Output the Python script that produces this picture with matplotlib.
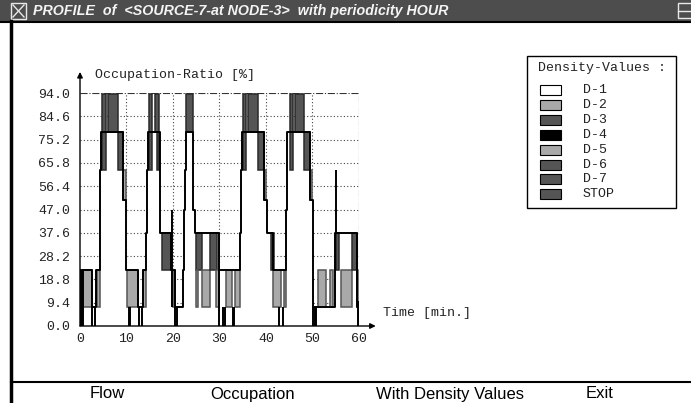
import numpy as np
import matplotlib.pyplot as plt
from matplotlib.patches import Rectangle

# occupation profile (step, post): time [min.] / occupation [%]
prof_t = [0.0, 2.5, 3.4, 4.2, 4.4, 4.6, 9.3, 9.8, 12.5, 13.5, 14.3, 14.5, 14.6,
          17.2, 19.6, 20.4, 22.2, 22.4, 22.6, 22.7, 24.3, 24.8, 29.9, 34.4, 34.6,
          34.8, 39.5, 40.2, 41.6, 44.4, 44.6, 49.5, 50.1, 54.9, 59.6,
          59.9, 60.0]
prof_v = [22.6, 7.5, 22.6, 37.6, 63.0, 78.4, 51.0, 22.6, 7.5, 22.6, 37.6, 63.0, 78.4,
          37.6, 22.6, 7.5, 22.6, 47.0, 63.0, 78.4, 47.0, 37.6, 22.6, 37.6, 63.0,
          78.4, 51.0, 37.6, 22.6, 47.0, 78.4, 51.0, 7.5, 37.6, 7.5,
          0.0, 0.0]

# density blocks: start, end, lower, upper, density class
blk_t0 = [4.8, 6.1, 8.1, 9.2, 14.8, 16.1, 16.5, 22.7, 35.0, 36.2, 38.2, 39.5,
          45.2, 46.2, 48.2, 49.5,
          0.7, 3.6, 10.2, 13.5, 17.7, 19.9, 24.9, 24.9, 26.2, 28.0, 29.2, 31.5,
          33.4, 41.0, 41.6, 43.8, 51.1, 53.8, 55.0, 56.1, 58.4, 59.5]
blk_t1 = [5.5, 8.1, 9.2, 9.8, 15.4, 17.0, 17.0, 24.2, 35.6, 38.2, 39.5, 40.1,
          45.7, 48.2, 49.5, 50.0,
          2.5, 4.2, 12.5, 14.3, 19.6, 20.4, 26.3, 25.4, 28.0, 29.5, 29.9, 32.6,
          34.5, 41.8, 43.3, 44.4, 52.9, 54.5, 55.6, 58.4, 59.5, 59.8]
blk_lo = [63.0, 78.4, 63.0, 51.0, 63.0, 78.4, 63.0, 78.4, 63.0, 78.4, 63.0, 51.0,
          63.0, 78.4, 63.0, 51.0,
          7.5, 7.5, 7.5, 7.5, 22.6, 7.5, 22.6, 7.5, 7.5, 22.6, 7.5, 7.5,
          7.5, 22.6, 7.5, 7.5, 7.5, 7.5, 22.6, 7.5, 22.6, 7.5]
blk_hi = [93.5, 93.5, 78.4, 63.0, 93.5, 93.5, 78.4, 93.5, 93.5, 93.5, 78.4, 63.0,
          93.5, 93.5, 78.4, 63.0,
          22.6, 22.6, 22.6, 22.6, 37.6, 22.6, 37.6, 22.6, 22.6, 37.6, 22.6, 22.6,
          22.6, 37.6, 22.6, 22.6, 22.6, 22.6, 37.6, 22.6, 37.6, 22.6]
blk_cls = ['D-3', 'D-3', 'D-3', 'D-2', 'D-3', 'D-3', 'D-3', 'D-3', 'D-3', 'D-3', 'D-3', 'D-2',
           'D-3', 'D-3', 'D-3', 'D-2',
           'D-2', 'D-2', 'D-2', 'D-2', 'D-3', 'D-2', 'D-3', 'D-2', 'D-2', 'D-3', 'D-2', 'D-2',
           'D-2', 'D-3', 'D-2', 'D-2', 'D-2', 'D-2', 'D-3', 'D-2', 'D-3', 'D-2']

# short peaks drawn as single lines
spike_t = [0.15, 0.45, 0.75, 2.6, 3.3, 10.5, 10.8, 12.6, 13.4, 19.7, 20.5, 20.8, 29.9,
           30.8, 31.2, 32.8, 33.2, 42.9, 43.6, 50.2, 50.5, 50.8, 55.0, 59.8]
spike_lo = [0, 0, 0, 0, 0, 0, 0, 0, 0, 7.5, 0, 0, 0,
            0, 0, 0, 0, 0, 0, 0, 0, 0, 37.6, 0]
spike_hi = [22.6, 22.6, 22.6, 7.5, 7.5, 7.5, 7.5, 7.5, 7.5, 47.0, 7.5, 7.5, 22.6,
            7.5, 7.5, 7.5, 7.5, 7.5, 7.5, 7.5, 7.5, 7.5, 63.0, 10.0]

y_ticks = [0.0, 9.4, 18.8, 28.2, 37.6, 47.0, 56.4, 65.8, 75.2, 84.6, 94.0]
x_ticks = [0, 10, 20, 30, 40, 50, 60]

legend_labels = ['D-1', 'D-2', 'D-3', 'D-4', 'D-5', 'D-6', 'D-7', 'STOP']
legend_colors = ['#ffffff', '#a9a9a9', '#555555', '#000000',
                 '#a9a9a9', '#555555', '#555555', '#555555']
edge_of = {'#ffffff': '#000000', '#a9a9a9': '#555555', '#555555': '#2a2a2a', '#000000': '#000000'}
cls_color = dict(zip(legend_labels, legend_colors))

menu_items = ['Flow', 'Occupation', 'With Density Values', 'Exit']
title = 'PROFILE  of  <SOURCE-7-at NODE-3>  with periodicity HOUR'

mono = ['Liberation Mono', 'DejaVu Sans Mono']
W, H = 691, 403
fig = plt.figure(figsize=(W / 100, H / 100), dpi=100)

# window chrome, in pixel coordinates
bg = fig.add_axes([0, 0, 1, 1])
bg.set_xlim(0, W)
bg.set_ylim(H, 0)
bg.axis('off')
bg.add_patch(Rectangle((0, 0), W, 21, color='#4d4d4d'))
bg.plot([0, W], [21.5, 21.5], color='black', lw=1.5)
bg.plot([11, 11], [21, H], color='black', lw=2.5)
bg.plot([11, W], [382, 382], color='black', lw=1.5)
bg.add_patch(Rectangle((11, 3), 15, 16, fill=False, ec='#e8e8e8', lw=1))
bg.plot([13, 24], [5, 17], color='#e8e8e8', lw=1)
bg.plot([13, 24], [17, 5], color='#e8e8e8', lw=1)
bg.add_patch(Rectangle((678, 3), 14, 15, fill=False, ec='#e8e8e8', lw=1))
bg.plot([678, 691], [11, 11], color='#e8e8e8', lw=1)
bg.text(33, 11, title, color='#f4f4f4', fontsize=10.3, fontstyle='italic', fontweight='bold',
        family=['Liberation Sans Narrow', 'Liberation Sans'], va='center', ha='left')
for label, xc in zip(menu_items, [107, 253, 450, 600]):
    bg.text(xc, 394, label, fontsize=12, family='Liberation Sans', ha='center', va='center')

bg.text(95, 75, 'Occupation-Ratio [%]', family=mono, fontsize=9.5, va='center', color='#222222')
bg.text(383, 313, 'Time [min.]', family=mono, fontsize=9.5, va='center', color='#222222')

# legend box
bg.add_patch(Rectangle((527, 56), 149, 152, fill=False, ec='black', lw=1))
bg.text(538, 68, 'Density-Values :', family=mono, fontsize=9.5, va='center', color='#222222')
for i, (lab, col) in enumerate(zip(legend_labels, legend_colors)):
    cy = 90 + i * 14.9
    bg.add_patch(Rectangle((540, cy - 5), 21, 10, fc=col, ec='black', lw=0.8))
    bg.text(583, cy, lab, family=mono, fontsize=9.5, va='center', color='#222222')

# the chart itself
ax = fig.add_axes([80 / W, 77 / H, 279 / W, 233 / H])
ax.set_xlim(0, 60)
ax.set_ylim(0, 94)
ax.patch.set_visible(False)
for s in ax.spines.values():
    s.set_visible(False)

ax.hlines(y_ticks[1:-1], 0, 60, colors='#444444', lw=0.8, linestyles=(0, (1, 2)), zorder=0.5)
ax.vlines(x_ticks[1:-1], 0, 94, colors='#444444', lw=0.8, linestyles=(0, (1, 2)), zorder=0.5)
ax.hlines(94, 0, 60, colors='#333333', lw=0.8, linestyles='-.', zorder=0.5)
ax.vlines(60, 0, 94, colors='#333333', lw=0.8, linestyles='-.', zorder=0.5)

ax.fill_between(prof_t, prof_v, step='post', color='white', zorder=1)
for t0, t1, lo, hi, c in zip(blk_t0, blk_t1, blk_lo, blk_hi, blk_cls):
    col = cls_color[c]
    ax.bar(t0, hi - lo, width=t1 - t0, bottom=lo, align='edge', color=col,
           edgecolor=edge_of[col], lw=1.1, zorder=2)
ax.step(prof_t, prof_v, where='post', color='black', lw=1.4, zorder=3)
ax.vlines(spike_t, spike_lo, spike_hi, colors='black', lw=1.4, zorder=3)

ax.annotate('', xy=(0, 102.5), xytext=(0, 0), annotation_clip=False,
            arrowprops=dict(arrowstyle='-|>', color='black', lw=1, mutation_scale=8, shrinkA=0, shrinkB=0))
ax.annotate('', xy=(63.6, 0), xytext=(0, 0), annotation_clip=False,
            arrowprops=dict(arrowstyle='-|>', color='black', lw=1, mutation_scale=8, shrinkA=0, shrinkB=0))

ax.set_yticks(y_ticks)
ax.set_yticklabels(['%.1f' % v for v in y_ticks], family=mono, fontsize=9.5, color='#222222')
ax.set_xticks(x_ticks)
ax.set_xticklabels([str(v) for v in x_ticks], family=mono, fontsize=9.5, color='#222222')
ax.tick_params(length=0, pad=7)
ax.tick_params(axis='x', pad=5)

fig.savefig('out.png', dpi=100)
